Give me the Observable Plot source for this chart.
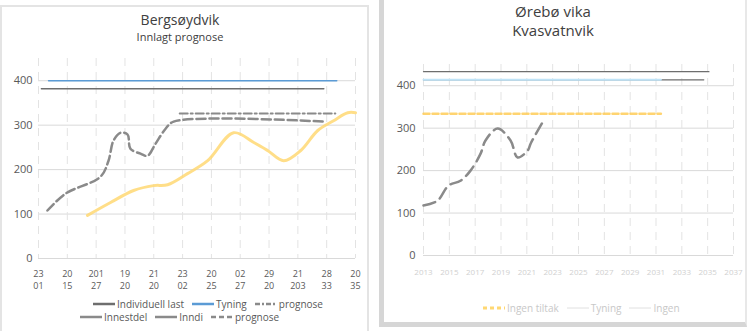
<!DOCTYPE html>
<html><head><meta charset="utf-8">
<script src="https://cdn.jsdelivr.net/npm/d3@7"></script>
<script src="https://cdn.jsdelivr.net/npm/@observablehq/plot@0.6"></script>
<style>
body{margin:0;background:#fff;font-family:"Open Sans",sans-serif;color:#595959;}
#wrap{position:relative;width:749px;height:331px;overflow:hidden;background:#fff;}
.panel{position:absolute;box-sizing:border-box;}
.title{position:absolute;text-align:center;color:#404040;white-space:nowrap;}
.leg{position:absolute;font-size:10px;line-height:12px;height:12px;color:#595959;white-space:nowrap;display:flex;align-items:center;}
.leg svg{margin-right:2px;}
.leg span{margin-right:8px;}
.chart{position:absolute;}
</style></head>
<body><div id="wrap">
<div class="panel" style="left:0;top:5px;width:369px;height:326px;border:2px solid #e4e4e4;border-bottom:none;"></div>
<div class="panel" style="left:379px;top:-2px;width:368px;height:329px;border-left:5px solid #d6d6d6;border-bottom:5px solid #d6d6d6;border-right:2px solid #e8e8e8;"></div>
<div class="title" style="left:80px;width:200px;top:12px;font-size:14px;line-height:16px;">Bergsøydvik<br><span style="font-size:11px;">Innlagt prognose</span></div>
<div class="title" style="left:453px;width:200px;top:2px;font-size:15px;line-height:19px;">Ørebø vika<br>Kvasvatnvik</div>
<div id="left" class="chart" style="left:0;top:45px;"></div>
<div id="right" class="chart" style="left:380px;top:40px;"></div>
<div id="legL1" class="leg" style="left:93px;top:298px;"></div>
<div id="legL2" class="leg" style="left:80px;top:311px;"></div>
<div id="legR" class="leg" style="left:483px;top:302px;"></div>
</div>
<script>
// ---------- left chart data ----------
const leftXLabels = ["23\n01","20\n15","201\n27","19\n20","21\n20","23\n02","20\n25","02\n27","29\n20","21\n203","28\n33","20\n35"];
const leftTyningX = [0.35, 10.35];
const leftTyningY = [400, 400];
const leftIndivX = [0.1, 9.9];
const leftIndivY = [382, 382];
const leftPrognoseX = [4.9, 10.3];
const leftPrognoseY = [326, 326];
const leftInndiX = [0.31, 0.94, 2.15, 2.43, 2.60, 2.85, 3.09, 3.19, 3.54, 3.78, 4.06, 4.41, 4.69, 9.9];
const leftInndiY = [108, 146, 184, 220, 265, 283, 279, 247, 236, 231, 258, 292, 308, 308];
const leftYellowX = [1.70, 2.50, 3.30, 3.99, 4.48, 5.17, 5.87, 6.77, 7.47, 7.95, 8.51, 9.10, 9.69, 10.24, 10.73, 11.0];
const leftYellowY = [97, 126, 153, 164, 166, 191, 220, 283, 261, 243, 220, 243, 288, 310, 328, 328];
const leftYTicks = [0, 100, 200, 300, 400];

// ---------- right chart data ----------
const rightXLabels = ["2013","2015","2017","2019","2021","2023","2025","2027","2029","2031","2033","2035","2037"];
const rightTopX = [0, 11.05];
const rightTopY = [433, 433];
const rightIndivX = [0, 10.85];
const rightIndivY = [414, 414];
const rightTyningX = [0, 9.19];
const rightTyningY = [414, 414];
const rightYellowX = [0, 9.19];
const rightYellowY = [334, 334];
const rightInndiX = [0, 0.54, 0.97, 1.43, 1.82, 2.21, 2.40, 2.87, 3.37, 3.64, 4.03, 4.15, 4.65];
const rightInndiY = [118, 129, 165, 176, 200, 240, 271, 299, 271, 231, 247, 264, 318];
const rightYTicks = [0, 100, 200, 300, 400];

const GRAY = "#8a8a8a", DARK = "#6e6e6e", BLUE = "#5b9bd5", YEL = "#ffd873";
const pts = (xs, ys) => xs.map((x, i) => ({x, y: ys[i]}));

const left = Plot.plot({
  width: 370, height: 250, marginLeft: 38, marginRight: 15, marginTop: 13, marginBottom: 37,
  style: {fontFamily: "Open Sans, sans-serif", fontSize: "11px", color: "#595959", background: "transparent"},
  x: {domain: [0, 11]},
  y: {domain: [0, 450]},
  marks: [
    Plot.gridY(leftYTicks, {stroke: "#d9d9d9", strokeOpacity: 1}),
    Plot.gridX(d3.range(12), {stroke: "#e3e3e3", strokeOpacity: 1, strokeDasharray: "8,6"}),
    Plot.axisY(leftYTicks, {tickSize: 0, tickPadding: 6, label: null}),
    Plot.axisX(d3.range(12), {tickSize: 0, tickPadding: 10, tickFormat: i => leftXLabels[i], label: null, fontSize: 9, lineHeight: 1.3}),
    Plot.line(pts(leftYellowX, leftYellowY), {x: "x", y: "y", stroke: YEL, strokeWidth: 3, curve: "catmull-rom", strokeOpacity: 0.85}),
    Plot.line(pts(leftIndivX, leftIndivY), {x: "x", y: "y", stroke: DARK, strokeWidth: 1.5}),
    Plot.line(pts(leftTyningX, leftTyningY), {x: "x", y: "y", stroke: BLUE, strokeWidth: 1.5}),
    Plot.line(pts(leftPrognoseX, leftPrognoseY), {x: "x", y: "y", stroke: GRAY, strokeWidth: 2, strokeDasharray: "8,3,2,3"}),
    Plot.line(pts(leftInndiX, leftInndiY), {x: "x", y: "y", stroke: GRAY, strokeWidth: 2.5, strokeDasharray: "9,4", curve: "catmull-rom"})
  ]
});
document.getElementById("left").appendChild(left);

const right = Plot.plot({
  width: 366, height: 250, marginLeft: 43, marginRight: 13, marginTop: 24, marginBottom: 35,
  style: {fontFamily: "Open Sans, sans-serif", fontSize: "11px", color: "#595959", background: "transparent"},
  x: {domain: [0, 12]},
  y: {domain: [0, 450]},
  marks: [
    Plot.gridY(rightYTicks, {stroke: "#d9d9d9", strokeOpacity: 1}),
    Plot.gridX(d3.range(13), {stroke: "#e3e3e3", strokeOpacity: 1, strokeDasharray: "8,6"}),
    Plot.axisY(rightYTicks, {tickSize: 0, tickPadding: 8, label: null}),
    Plot.axisX(d3.range(13), {tickSize: 0, tickPadding: 14, tickFormat: i => rightXLabels[i], label: null, fill: "#d0d0d0", fontSize: 8}),
    Plot.line(pts(rightTopX, rightTopY), {x: "x", y: "y", stroke: DARK, strokeWidth: 1.2}),
    Plot.line(pts(rightIndivX, rightIndivY), {x: "x", y: "y", stroke: DARK, strokeWidth: 1.2}),
    Plot.line(pts(rightTyningX, rightTyningY), {x: "x", y: "y", stroke: "#bfe3f7", strokeWidth: 2}),
    Plot.line(pts(rightYellowX, rightYellowY), {x: "x", y: "y", stroke: "#ffc94d", strokeWidth: 2.5, strokeDasharray: "6,3", strokeOpacity: 0.8}),
    Plot.line(pts(rightInndiX, rightInndiY), {x: "x", y: "y", stroke: GRAY, strokeWidth: 2.5, strokeDasharray: "12,6", curve: "catmull-rom"})
  ]
});
document.getElementById("right").appendChild(right);

function sw(color, dash, w) {
  return `<svg width="22" height="6"><line x1="0" y1="3" x2="22" y2="3" stroke="${color}" stroke-width="${w}" stroke-dasharray="${dash}"/></svg>`;
}
const legL1 = [["Individuell last", DARK, "", 2.5], ["Tyning", BLUE, "", 2.5], ["prognose", GRAY, "5,2,2,2", 2.5]];
const legL2 = [["Innestdel", GRAY, "", 2.5], ["Inndi", GRAY, "", 2.5], ["prognose", GRAY, "5,3", 2.5]];
const legR = [["Ingen tiltak", YEL, "4,3", 3], ["Tyning", "#e0e0e0", "", 1], ["Ingen", "#e0e0e0", "", 1]];
const fill = (id, items) => document.getElementById(id).innerHTML =
  items.map(([t, c, d, w]) => sw(c, d, w) + `<span>${t}</span>`).join("");
fill("legL1", legL1); fill("legL2", legL2); fill("legR", legR);
document.querySelectorAll("#legR span").forEach(s => s.style.color = "#c8c8c8");
</script>
</body></html>
